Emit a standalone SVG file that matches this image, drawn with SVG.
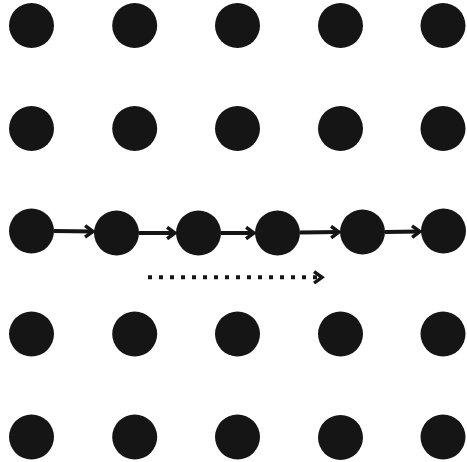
<svg xmlns="http://www.w3.org/2000/svg" width="467" height="462" viewBox="0 0 467 462">
<style>
.d{fill:#151515}
.c{stroke:#151515;stroke-width:4;fill:none}
.dot{stroke:#151515;stroke-width:4;fill:none;stroke-dasharray:4 7}
</style>
<defs>
<marker id="ah" viewBox="0 0 10 10" refX="8" refY="5" markerWidth="3.6" markerHeight="3.6" markerUnits="strokeWidth" orient="auto">
<polyline points="2.5,1 8,5 2.5,9" fill="none" stroke="#151515" stroke-width="2.4"/>
</marker>
</defs>
<rect width="467" height="462" fill="#fff"/>
<g id="grid" class="d">
<circle cx="31.5" cy="25.5" r="22.5"/><circle cx="134.7" cy="25.5" r="22.5"/><circle cx="237.5" cy="25.5" r="22.5"/><circle cx="340.5" cy="25.5" r="22.5"/><circle cx="443" cy="25.5" r="22.5"/>
<circle cx="31.5" cy="128.5" r="22.5"/><circle cx="134.7" cy="128.5" r="22.5"/><circle cx="237.5" cy="128.5" r="22.5"/><circle cx="340.5" cy="128.5" r="22.5"/><circle cx="443" cy="128.5" r="22.5"/>
<circle cx="31.5" cy="334" r="22.5"/><circle cx="134.7" cy="334" r="22.5"/><circle cx="237.5" cy="334" r="22.5"/><circle cx="340.5" cy="334" r="22.5"/><circle cx="443" cy="334" r="22.5"/>
<circle cx="31.5" cy="437" r="22.5"/><circle cx="134.7" cy="437" r="22.5"/><circle cx="237.5" cy="437" r="22.5"/><circle cx="340.5" cy="437.5" r="22.5"/><circle cx="443" cy="437" r="22.5"/>
</g>
<g id="path-nodes" class="d">
<circle id="p1" cx="31.5" cy="231" r="22.5"/>
<circle id="p2" cx="116.5" cy="233" r="22.5"/>
<circle id="p3" cx="198.5" cy="233" r="22.5"/>
<circle id="p4" cx="277.5" cy="233" r="22.5"/>
<circle id="p5" cx="362.5" cy="232" r="22.5"/>
<circle id="p6" cx="443.5" cy="231" r="22.5"/>
</g>
<g id="connectors">
<line class="c" x1="54" y1="231" x2="93" y2="231.5" marker-end="url(#ah)"/>
<line class="c" x1="139" y1="233" x2="175" y2="233" marker-end="url(#ah)"/>
<line class="c" x1="221" y1="233" x2="254" y2="233" marker-end="url(#ah)"/>
<line class="c" x1="300" y1="232.5" x2="339" y2="232" marker-end="url(#ah)"/>
<line class="c" x1="385" y1="232" x2="420" y2="231.5" marker-end="url(#ah)"/>
<line class="dot" x1="148" y1="277.3" x2="322" y2="277.3" marker-end="url(#ah)"/>
</g>
</svg>
